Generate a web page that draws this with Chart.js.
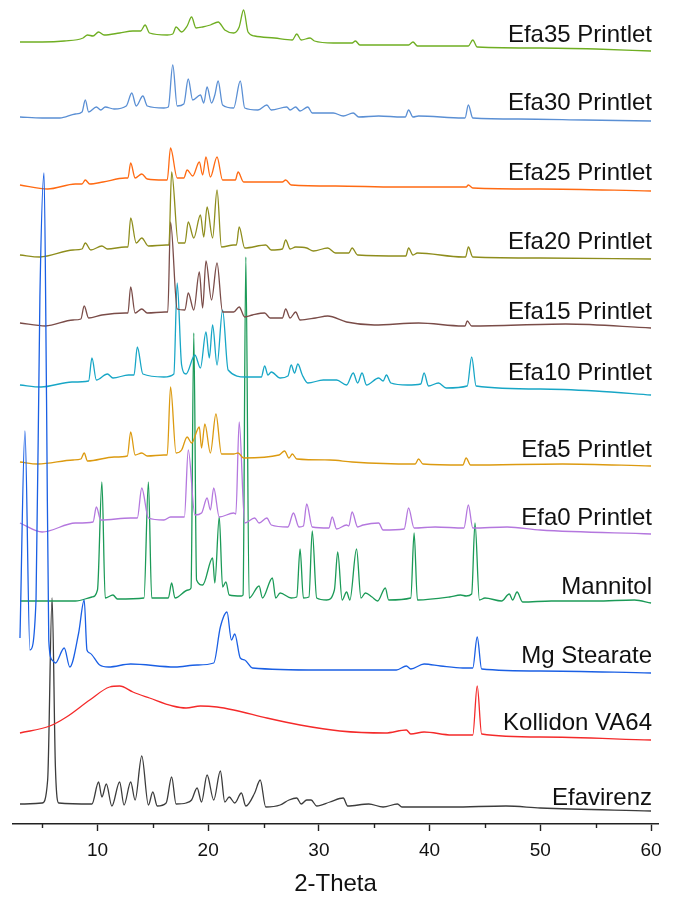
<!DOCTYPE html>
<html>
<head>
<meta charset="utf-8">
<script src="https://cdn.jsdelivr.net/npm/chart.js@4.4.1/dist/chart.umd.min.js"></script>
<style>
  html, body { margin: 0; padding: 0; background: #fff; }
  #wrap { width: 676px; height: 899px; }
</style>
</head>
<body>
<div id="wrap"><canvas id="xrd" width="676" height="899"></canvas></div>
<script>
// sample names, top to bottom
const names = [
  "Efa35 Printlet", "Efa30 Printlet", "Efa25 Printlet", "Efa20 Printlet",
  "Efa15 Printlet", "Efa10 Printlet", "Efa5 Printlet", "Efa0 Printlet",
  "Mannitol", "Mg Stearate", "Kollidon VA64", "Efavirenz"
];
const colors = [
  "#6fae22", "#5a8fd4", "#ff6a12", "#8e8d1c",
  "#7a4c48", "#17a6c6", "#dc9a10", "#b477de",
  "#1b9a57", "#1a5fe4", "#f42a2a", "#3c3c3c"
];
// vertical stacking offset of each pattern (intensity units)
const offsets = [780, 705, 635, 565, 495, 435, 360, 290, 220, 150, 80, 15];

// 2-theta ticks
const xTicks = [10, 20, 30, 40, 50, 60];

// ---- patterns: 2-theta / intensity ----
const t35 = [3.0, 5.0, 7.0, 8.7, 9.1, 9.6, 10.1, 10.6, 12.0, 13.2, 13.9, 14.3, 14.7, 16.3, 16.8, 17.1, 17.6, 18.1, 18.5, 18.9, 19.5, 20.2, 20.9, 21.5, 22.3, 22.8, 23.2, 23.6, 24.2, 26.0, 27.6, 28.0, 28.4, 29.2, 29.6, 31.3, 32.5, 33.0, 33.3, 33.7, 36.0, 38.1, 38.5, 38.9, 43.5, 43.9, 44.3, 50.0, 55.0, 60.0];
const i35 = [2, 2, 3, 6, 9, 8, 12, 9, 11, 13, 13, 19, 11, 9, 10, 17, 12, 18, 27, 16, 17, 19, 22, 14, 11, 17, 34, 12, 8, 6, 4, 10, 4, 6, 3, 1, 1, 1, 3, -1, -1, -1, 2, -2, -2, 4, -3, -4, -5, -7];

const t30 = [3.0, 5.0, 6.6, 8.0, 8.6, 8.9, 9.2, 9.9, 10.3, 10.7, 11.5, 12.6, 13.1, 13.5, 14.1, 14.5, 16.0, 16.4, 16.8, 17.2, 17.8, 18.2, 18.6, 19.3, 19.6, 19.9, 20.3, 20.6, 20.9, 21.3, 22.3, 22.9, 23.3, 24.5, 25.3, 25.7, 27.1, 27.4, 27.9, 28.3, 29.0, 29.4, 31.3, 32.2, 33.1, 33.6, 35.4, 37.5, 37.8, 38.1, 38.5, 39.0, 43.0, 43.2, 43.5, 43.9, 48.0, 54.0, 60.0];
const i30 = [2, 1, 1, 5, 7, 19, 7, 12, 9, 12, 10, 13, 26, 13, 23, 13, 11, 12, 54, 13, 15, 40, 19, 24, 16, 32, 16, 24, 38, 14, 11, 38, 11, 9, 14, 9, 12, 9, 12, 8, 12, 6, 6, 3, 6, 2, 3, 2, 2, 9, 2, 3, 1, 1, 14, 1, 0, -1, -2];

const t25 = [3.0, 5.5, 8.0, 8.6, 8.9, 9.3, 10.5, 12.5, 12.75, 13.0, 13.4, 14.0, 14.5, 16.0, 16.3, 16.6, 17.2, 17.8, 18.1, 18.6, 19.2, 19.5, 19.8, 20.2, 20.8, 21.3, 22.2, 22.45, 22.7, 23.2, 25.3, 26.7, 27.0, 27.5, 31.5, 37.0, 43.1, 43.3, 43.5, 43.9, 50.0, 60.0];
const i25 = [4, 0, 5, 5, 9, 5, 7, 11, 11, 26, 11, 15, 10, 9, 9, 41, 11, 11, 19, 13, 27, 14, 32, 12, 32, 9, 9, 9, 17, 7, 7, 7, 9, 4, 3, 2, 2, 2, 4, 1, 0, -2];

const t20 = [3.0, 4.8, 7.8, 8.6, 8.9, 9.4, 10.4, 10.9, 12.5, 12.75, 13.0, 13.5, 14.0, 14.6, 16.2, 16.45, 16.7, 17.3, 17.9, 18.2, 18.7, 19.3, 19.6, 19.9, 20.4, 20.8, 21.2, 22.3, 22.55, 22.8, 23.3, 25.2, 25.7, 26.7, 27.0, 27.4, 27.9, 28.9, 29.5, 30.8, 31.5, 32.7, 33.0, 33.5, 37.6, 37.85, 38.1, 38.5, 38.9, 43.0, 43.25, 43.5, 43.9, 50.0, 60.0];
const i20 = [4, 2, 9, 10, 16, 9, 13, 10, 12, 12, 41, 16, 21, 13, 14, 14, 87, 16, 16, 37, 21, 44, 22, 52, 21, 69, 12, 14, 14, 32, 11, 14, 9, 10, 19, 10, 12, 11, 8, 11, 6, 6, 11, 4, 3, 3, 11, 4, 6, 2, 2, 12, 2, 1, 0];

const t15 = [3.0, 5.3, 7.8, 8.5, 8.8, 9.2, 10.4, 12.5, 12.75, 13.0, 13.4, 14.0, 14.5, 16.1, 16.35, 16.6, 17.2, 17.9, 18.2, 18.7, 19.2, 19.5, 19.8, 20.3, 20.8, 21.3, 22.3, 22.8, 23.3, 24.0, 25.1, 25.6, 26.7, 27.0, 27.4, 27.9, 28.3, 29.7, 30.8, 32.5, 35.0, 39.0, 43.0, 43.2, 43.4, 43.8, 52.3, 60.0];
const i15 = [6, 3, 9, 10, 23, 11, 14, 16, 16, 42, 16, 20, 16, 17, 17, 107, 20, 19, 36, 19, 57, 21, 68, 29, 66, 17, 17, 22, 12, 14, 16, 11, 11, 20, 11, 17, 9, 11, 13, 7, 4, 6, 3, 3, 8, 3, 5, 1];

const t10 = [3.0, 4.9, 7.7, 9.2, 9.5, 9.9, 10.9, 11.4, 12.8, 13.3, 13.6, 14.1, 16.0, 16.9, 17.2, 17.6, 18.0, 18.8, 19.3, 19.8, 20.1, 20.4, 20.8, 21.3, 21.8, 23.4, 24.8, 25.1, 25.4, 25.7, 26.5, 27.2, 27.5, 27.8, 28.1, 28.5, 29.0, 30.4, 31.6, 32.5, 33.1, 33.5, 33.9, 34.3, 35.4, 35.8, 36.1, 36.5, 38.0, 39.2, 39.5, 39.9, 40.8, 41.5, 43.4, 43.8, 44.2, 50.0, 55.0, 60.0];
const i10 = [4, 2, 7, 8, 31, 9, 15, 11, 14, 14, 42, 15, 12, 15, 106, 24, 15, 34, 21, 57, 31, 64, 24, 79, 19, 12, 12, 23, 14, 17, 11, 13, 24, 16, 25, 14, 6, 9, 9, 4, 16, 6, 16, 4, 11, 8, 14, 6, 4, 5, 16, 3, 6, 1, 3, 32, 3, 0, -2, -6];

const t5 = [3.0, 4.6, 7.8, 8.5, 8.8, 9.1, 11.5, 12.7, 13.0, 13.4, 14.0, 14.5, 16.0, 16.3, 16.6, 17.1, 17.6, 18.1, 18.5, 19.2, 19.4, 19.7, 20.2, 20.7, 21.2, 22.3, 22.7, 23.2, 26.4, 26.9, 27.3, 27.6, 28.0, 31.0, 33.0, 38.5, 38.7, 39.0, 39.4, 43.0, 43.3, 43.7, 52.0, 60.0];
const i5 = [2, 0, 4, 5, 11, 3, 7, 8, 32, 9, 11, 8, 9, 9, 77, 11, 14, 27, 21, 37, 16, 40, 11, 50, 10, 10, 11, 6, 9, 13, 6, 10, 5, 4, 2, 0, 0, 5, 0, -1, 6, -1, 0, -2];

const t0 = [3.0, 5.0, 8.0, 9.6, 9.9, 10.3, 13.0, 13.6, 14.0, 14.6, 16.0, 16.6, 17.5, 17.85, 18.2, 18.8, 19.4, 19.9, 20.2, 20.5, 21.0, 22.3, 22.5, 22.8, 23.3, 24.2, 24.6, 25.3, 25.7, 27.2, 27.7, 28.2, 28.6, 28.9, 29.4, 30.9, 31.2, 31.6, 32.5, 32.7, 33.0, 33.5, 34.0, 35.4, 35.8, 37.7, 38.1, 38.6, 40.5, 43.1, 43.5, 43.9, 47.0, 50.0, 60.0];
const i0 = [11, 2, 11, 12, 27, 14, 16, 16, 46, 16, 14, 17, 17, 17, 84, 19, 21, 36, 24, 46, 17, 21, 20, 112, 11, 16, 11, 16, 9, 7, 21, 7, 8, 30, 7, 6, 17, 5, 9, 8, 22, 7, 9, 11, 4, 5, 26, 6, 7, 6, 29, 6, 7, 4, 0];

const tMan = [3.0, 8.0, 9.5, 10.0, 10.4, 10.7, 11.4, 11.8, 14.2, 14.6, 14.9, 16.4, 16.7, 17.0, 18.2, 18.45, 18.7, 18.95, 19.5, 20.4, 20.6, 21.0, 21.3, 21.6, 21.9, 23.0, 23.15, 23.4, 23.7, 24.6, 24.9, 25.8, 26.1, 26.5, 27.5, 28.0, 28.3, 28.6, 29.1, 29.4, 29.8, 30.7, 31.4, 31.7, 32.1, 32.5, 32.8, 33.4, 33.8, 34.2, 34.8, 35.3, 36.0, 36.3, 38.3, 38.6, 38.9, 41.8, 42.8, 43.3, 43.8, 44.1, 44.5, 45.0, 46.5, 47.2, 47.5, 47.9, 48.4, 51.0, 55.0, 58.5, 60.0];
const iMan = [3, 3, 7, 14, 122, 6, 9, 5, 6, 122, 6, 6, 21, 6, 14, 16, 271, 24, 19, 46, 21, 87, 17, 22, 9, 8, 9, 347, 6, 18, 6, 26, 6, 11, 6, 7, 55, 6, 7, 73, 6, 4, 14, 52, 4, 12, 4, 55, 6, 11, 7, 3, 16, 4, 6, 71, 4, 7, 9, 8, 10, 81, 4, 6, 3, 10, 4, 12, 2, 3, 3, 4, 1];

const tMg = [3.0, 3.45, 3.9, 4.45, 4.8, 5.17, 5.4, 5.6, 5.9, 6.2, 7.0, 7.5, 8.3, 8.8, 9.05, 9.3, 10.2, 11.0, 13.0, 17.0, 19.0, 20.5, 21.1, 21.7, 22.1, 22.4, 22.9, 23.3, 24.0, 30.0, 37.0, 37.9, 38.3, 39.5, 41.0, 43.0, 43.9, 44.3, 44.7, 50.0, 60.0];
const iMg = [36, 243, 24, 74, 377, 501, 274, 34, 14, 11, 26, 7, 41, 74, 24, 21, 9, 7, 10, 7, 9, 11, 47, 62, 34, 40, 16, 14, 6, 4, 4, 8, 5, 10, 8, 6, 6, 37, 5, 3, 1];

const tKol = [3.0, 5.7, 7.2, 9.3, 11.1, 12.0, 13.2, 14.7, 16.8, 18.0, 19.3, 20.8, 22.3, 25.3, 28.3, 31.9, 36.0, 37.9, 38.3, 39.5, 42.0, 43.9, 44.3, 44.7, 50.0, 60.0];
const iKol = [11, 18, 27, 44, 57, 58, 52, 46, 38, 36, 38, 37, 34, 26, 19, 13, 11, 14, 10, 12, 9, 9, 58, 10, 7, 4];

const tEfa = [3.0, 5.0, 5.5, 5.9, 6.2, 6.5, 9.5, 10.1, 10.4, 10.8, 11.3, 12.0, 12.4, 13.0, 13.4, 14.0, 14.6, 15.0, 15.4, 16.2, 16.7, 17.1, 18.0, 18.5, 19.0, 19.4, 19.9, 20.5, 21.1, 21.5, 21.9, 22.4, 23.0, 23.4, 24.2, 24.7, 25.2, 26.5, 27.3, 28.0, 28.4, 28.9, 29.3, 29.8, 31.0, 32.2, 32.6, 34.5, 35.8, 37.1, 37.5, 42.0, 46.9, 50.0, 60.0];
const iEfa = [5, 6, 29, 211, 42, 6, 5, 27, 12, 25, 3, 27, 4, 27, 9, 53, 4, 17, 3, 6, 32, 5, 6, 9, 21, 7, 34, 9, 38, 7, 12, 6, 16, 3, 16, 29, 2, 4, 9, 11, 5, 9, 9, 3, 7, 11, 3, 5, 2, 5, 2, 2, 3, 1, -2];

const thetas = [t35, t30, t25, t20, t15, t10, t5, t0, tMan, tMg, tKol, tEfa];
const intens = [i35, i30, i25, i20, i15, i10, i5, i0, iMan, iMg, iKol, iEfa];

// where each label sits above its own offset
const labelLift = [9, 16, 16, 17, 17, 16, 14, 16, 17, 18, 21, 11];

const datasets = names.map(function (name, k) {
  return {
    label: name,
    data: thetas[k].map(function (t, j) {
      return { x: t, y: intens[k][j] + offsets[k] };
    }),
    borderColor: colors[k],
    borderWidth: 1.3,
    pointRadius: 0,
    fill: false,
    cubicInterpolationMode: "monotone",
    order: name === "Mg Stearate" ? -1 : k,
  };
});

// minor ticks + the right hand sample names
const decorations = {
  id: "decorations",
  afterDraw: function (chart) {
    const ctx = chart.ctx;
    const xs = chart.scales.x;
    const ys = chart.scales.y;
    ctx.save();
    ctx.strokeStyle = "#222";
    ctx.lineWidth = 1.4;
    for (let v = 5; v < 60; v += 10) {
      const px = Math.round(xs.getPixelForValue(v)) + 0.5;
      ctx.beginPath();
      ctx.moveTo(px, xs.top);
      ctx.lineTo(px, xs.top + 4);
      ctx.stroke();
    }
    ctx.fillStyle = "#111";
    ctx.font = "24px 'Liberation Sans', Arial, sans-serif";
    ctx.textAlign = "right";
    ctx.textBaseline = "middle";
    const right = xs.getPixelForValue(60) + 1;
    names.forEach(function (name, k) {
      ctx.fillText(name, right, ys.getPixelForValue(offsets[k] + labelLift[k]));
    });
    ctx.restore();
  },
};

new Chart(document.getElementById("xrd"), {
  type: "line",
  data: { datasets: datasets },
  options: {
    responsive: false,
    animation: false,
    layout: { padding: { left: 13, right: 18, top: 0, bottom: 0 } },
    plugins: {
      legend: { display: false },
      tooltip: { enabled: false },
    },
    scales: {
      x: {
        type: "linear",
        min: 2.37,
        max: 60.63,
        afterFit: function (scale) {
          scale.height = 75;
        },
        ticks: {
          stepSize: 10,
          includeBounds: false,
          padding: 8,
          color: "#111",
          font: { family: "'Liberation Sans', Arial, sans-serif", size: 19 },
          callback: function (value) {
            return xTicks.indexOf(value) >= 0 ? value : "";
          },
        },
        grid: {
          drawOnChartArea: false,
          drawTicks: true,
          tickLength: 7,
          tickWidth: 1.4,
          tickColor: "#222",
        },
        border: { display: true, color: "#222", width: 1.6 },
        title: {
          display: true,
          text: "2-Theta",
          color: "#111",
          padding: { top: 0, bottom: 0 },
          font: { family: "'Liberation Sans', Arial, sans-serif", size: 24 },
        },
      },
      y: {
        display: false,
        min: 0,
        max: 824,
      },
    },
  },
  plugins: [decorations],
});
</script>
</body>
</html>
